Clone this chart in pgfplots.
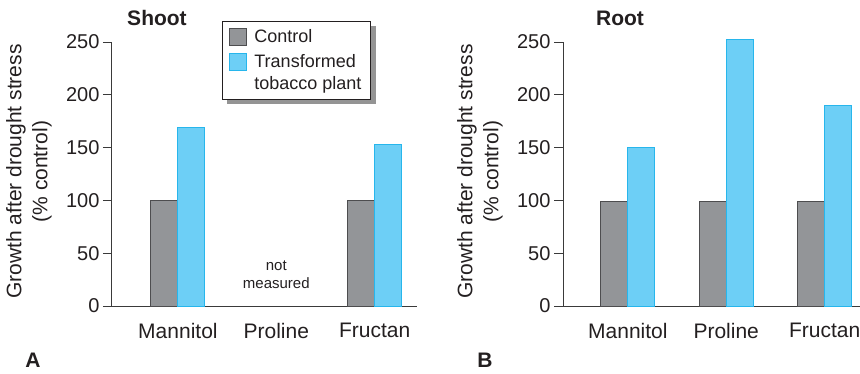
\documentclass[border=0pt]{standalone}
\usepackage{pgfplots}
\pgfplotsset{compat=1.18}
\usepackage{fontspec}
\setmainfont{Liberation Sans}
\usetikzlibrary{backgrounds}

\definecolor{ink}{HTML}{231F20}
\definecolor{axisgray}{HTML}{3A3A3A}
\definecolor{ctrlfill}{HTML}{939598}
\definecolor{ctrledge}{HTML}{4D4D4F}
\definecolor{tfill}{HTML}{6DCFF6}
\definecolor{tedge}{HTML}{27B6EC}

\pgfplotsset{
  panel/.style={
    scale only axis,
    height=264pt,
    ymin=0, ymax=250, ytick={0,50,...,250},
    xtick={0,1,2}, xticklabels={Mannitol,Proline,Fructan},
    axis x line*=bottom, axis y line*=left,
    axis line style={draw=axisgray, line width=1pt},
    ybar=0pt, bar width=27pt,
    clip=false,
    tick align=outside,
    major tick length=9pt,
    xtick style={draw=none},
    ytick style={draw=axisgray, line width=1pt},
    /pgf/number format/assume math mode=true,
    yticklabel style={font=\fontsize{20}{24}\selectfont, text=ink},
    xticklabel style={font=\fontsize{21}{25}\selectfont, text=ink, yshift=-5pt},
    ylabel={Growth after drought stress\\(\% control)},
    ylabel style={align=center, font=\fontsize{21}{26}\selectfont, text=ink, anchor=center},
  },
  ctrl/.style={fill=ctrlfill, draw=ctrledge, line width=1pt,
    legend image code/.code={\draw[fill=ctrlfill, draw=ctrledge, line width=1pt] (0pt,-8.5pt) rectangle (17pt,8.5pt);}},
  trans/.style={fill=tfill, draw=tedge, line width=1pt,
    legend image code/.code={\draw[fill=tfill, draw=tedge, line width=1pt] (0pt,2.3pt) rectangle (17pt,19.3pt);}},
}

\begin{document}
\begin{tikzpicture}
\useasboundingbox (0,0) rectangle (860pt,373pt);

% A: shoot
\begin{axis}[panel,
  at={(112pt,67pt)}, anchor=south west,
  width=305pt, xmin=-0.67, xmax=2.43,
  ylabel style={at={(axis description cs:-0.272,0.509)}},
  legend style={name=leg, at={(0.3607,1.0795)}, anchor=north west,
    draw=ink, line width=0.8pt, fill=white,
    font=\fontsize{18}{21.6}\selectfont, text=ink,
    inner xsep=7pt, inner ysep=6pt, row sep=7pt, column sep=5pt,
    cells={anchor=west, align=left}},
]
\addplot[ctrl] coordinates {(0,100) (2,100)};
\addlegendentry{Control}
\addplot[trans] coordinates {(0,169) (2,153)};
\addlegendentry{Transformed\\tobacco plant}
\node[align=center, font=\fontsize{15}{18}\selectfont, text=ink] at (axis cs:1,30) {not\\measured};
\node[font=\bfseries\fontsize{21}{25}\selectfont, text=ink] at (axis description cs:0.1475,1.0909) {Shoot};
\node[font=\bfseries\fontsize{21}{25}\selectfont, text=ink] at (axis description cs:-0.259,-0.2045) {A};
\end{axis}
% legend shadow
\begin{pgfonlayer}{background}
\fill[black!42] ([shift={(5pt,-5pt)}]leg.south west) rectangle ([shift={(5pt,-5pt)}]leg.north east);
\end{pgfonlayer}

% B: root
\begin{axis}[panel,
  at={(563pt,67pt)}, anchor=south west,
  width=297pt, xmin=-0.66, xmax=2.36,
  ylabel style={at={(axis description cs:-0.2795,0.509)}},
]
\addplot[ctrl] coordinates {(0,99) (1,99) (2,99)};
\addplot[trans] coordinates {(0,150) (1,252) (2,190)};
\node[font=\bfseries\fontsize{21}{25}\selectfont, text=ink] at (axis description cs:0.192,1.0909) {Root};
\node[font=\bfseries\fontsize{21}{25}\selectfont, text=ink] at (axis description cs:-0.2626,-0.2045) {B};
\end{axis}
\end{tikzpicture}
\end{document}
